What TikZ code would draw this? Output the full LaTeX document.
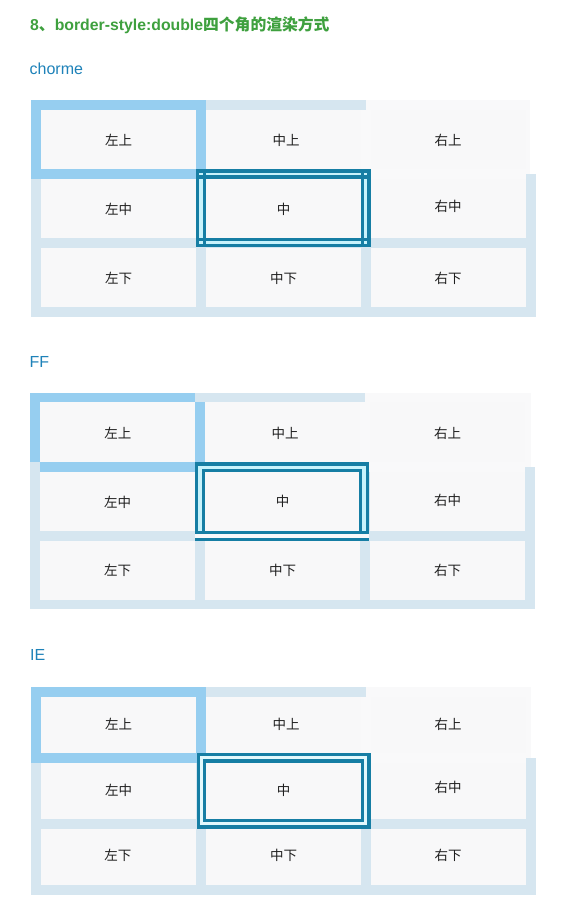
\documentclass[tikz,border=0pt]{standalone}
\usepackage{fontspec}
\setmainfont{Noto Sans CJK SC}
\newfontfamily\latf{Liberation Sans}
\definecolor{tblbg}{RGB}{214,230,240}
\definecolor{cellbg}{RGB}{248,248,249}
\definecolor{lblue}{RGB}{150,206,240}
\definecolor{dteal}{RGB}{22,126,164}
\definecolor{gapc}{RGB}{200,243,252}
\definecolor{gapie}{RGB}{226,249,253}
\definecolor{whitish}{RGB}{249,249,250}
\definecolor{titleg}{RGB}{62,160,62}
\definecolor{lblb}{RGB}{30,130,185}
\tikzset{
  celltext/.style={inner sep=0pt, text=black!88, font=\fontsize{13.5}{16}\selectfont},
  lbl/.style={anchor=west, inner sep=0pt, text=lblb, font=\latf\fontsize{16}{19}\selectfont},
  ttl/.style={anchor=west, inner sep=0pt, text=titleg, font=\bfseries\fontsize{15.8}{19}\selectfont}
}
\begin{document}
\begin{tikzpicture}[x=1pt,y=-1pt]
\useasboundingbox (0,0) rectangle (568,910);
\fill[white] (0,0) rectangle (568,910);

\node[ttl] (title) at (30,25) {{\latf 8}、{\latf border-style:double}四个角的渲染方式};

% ================= Chrome =================
\node[lbl] (lc) at (29.5,68.5) {chorme};
\fill[tblbg] (31,100) rectangle (536,317);
\fill[whitish] (366,100) rectangle (530,174);
\fill[white] (530,100) rectangle (536,174);
\fill[whitish] (361,110) rectangle (526,178.5);
\fill[lblue] (31,100) rectangle (206,178.5);
\foreach \xa/\xb in {41/196,206/361,371/526}
  \foreach \ya/\yb in {110/169,178.5/238,248/307}
    \fill[cellbg] (\xa,\ya) rectangle (\xb,\yb);
% chrome double border
\fill[dteal] (196,169.3) rectangle (370.7,247.3);
\fill[gapc] (199.3,172.6) rectangle (367.4,244);
\fill[dteal] (196,175.4) rectangle (370.7,178.7);
\fill[dteal] (196,238) rectangle (370.7,241.3);
\fill[dteal] (202.6,169.3) rectangle (205.9,247.3);
\fill[dteal] (360.8,169.3) rectangle (364.1,247.3);
\fill[cellbg] (205.9,178.7) rectangle (360.8,238);
\node[celltext] (c11) at (118.5,140) {左上};
\node[celltext] (c12) at (286,140) {中上};
\node[celltext] (c13) at (448,140) {右上};
\node[celltext] (c21) at (118.5,209.5) {左中};
\node[celltext] (c22) at (283.7,209) {中};
\node[celltext] (c23) at (448,206.5) {右中};
\node[celltext] (c31) at (118.5,278) {左下};
\node[celltext] (c32) at (283.7,278) {中下};
\node[celltext] (c33) at (448,278) {右下};

% ================= FF =================
\node[lbl] (lf) at (29.5,361.5) {FF};
\fill[tblbg] (30,393) rectangle (535,609);
\fill[whitish] (365,393) rectangle (531,467);
\fill[white] (531,393) rectangle (535,467);
\fill[whitish] (360,402) rectangle (525,472);
\fill[lblue] (30,393) rectangle (40,462);
\fill[lblue] (30,393) rectangle (195,402);
\fill[lblue] (195,402) rectangle (205,462);
\fill[lblue] (40,462) rectangle (195,472);
\foreach \xa/\xb in {40/195,205/360,370/525}
  \foreach \ya/\yb in {402/462,472/531,541/600}
    \fill[cellbg] (\xa,\ya) rectangle (\xb,\yb);
% FF double border
\fill[dteal] (195,462.3) rectangle (369.3,534.3);
\fill[gapc] (198.3,465.6) rectangle (366,531);
\fill[dteal] (201.6,469) rectangle (362.3,534.3);
\fill[cellbg] (204.9,472.3) rectangle (359,531);
\fill[dteal] (195,531) rectangle (369.3,534.3);
\fill[whitish] (195,534.3) rectangle (369.3,537.6);
\fill[dteal] (195,537.6) rectangle (369.3,540.6);
\node[celltext] (f11) at (117.8,433.3) {左上};
\node[celltext] (f12) at (285,433.3) {中上};
\node[celltext] (f13) at (447.5,433.3) {右上};
\node[celltext] (f21) at (117.5,502.3) {左中};
\node[celltext] (f22) at (282.6,501.7) {中};
\node[celltext] (f23) at (447.5,500) {右中};
\node[celltext] (f31) at (117.5,570.7) {左下};
\node[celltext] (f32) at (282.6,570.7) {中下};
\node[celltext] (f33) at (447.5,570.7) {右下};

% ================= IE =================
\node[lbl] (li) at (30,655) {IE};
\fill[tblbg] (31,687) rectangle (536,895);
\fill[whitish] (366,687) rectangle (531,758);
\fill[white] (531,687) rectangle (536,758);
\fill[whitish] (361,697) rectangle (526,763);
\fill[lblue] (31,687) rectangle (206,763);
\foreach \xa/\xb in {41/196,206/361,371/526}
  \foreach \ya/\yb in {697/753,763/818.5,829/885}
    \fill[cellbg] (\xa,\ya) rectangle (\xb,\yb);
% IE double border
\fill[dteal] (196.5,753) rectangle (370.5,828.5);
\fill[gapie] (199.8,756.3) rectangle (367.2,825.2);
\fill[dteal] (202.8,759.3) rectangle (364.2,822.2);
\fill[cellbg] (206.1,762.6) rectangle (360.9,818.9);
\node[celltext] (i11) at (118.5,724.3) {左上};
\node[celltext] (i12) at (286,724.3) {中上};
\node[celltext] (i13) at (448,724.3) {右上};
\node[celltext] (i21) at (118.5,790) {左中};
\node[celltext] (i22) at (283.7,790) {中};
\node[celltext] (i23) at (448,787.7) {右中};
\node[celltext] (i31) at (117.8,855.7) {左下};
\node[celltext] (i32) at (283.7,855.7) {中下};
\node[celltext] (i33) at (448,855.7) {右下};
\end{tikzpicture}
\end{document}
